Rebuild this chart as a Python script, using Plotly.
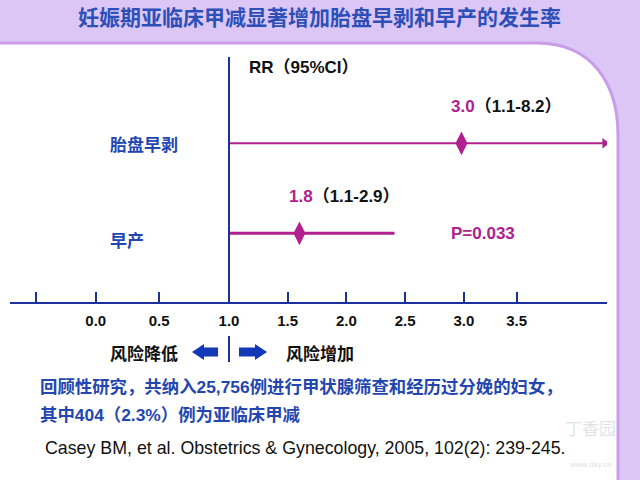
import plotly.graph_objects as go

# ---------------- data ----------------
outcomes = ["胎盘早剥", "早产"]
rr_text = ["3.0", "1.8"]
ci_text = ["（1.1-8.2）", "（1.1-2.9）"]
rr_plot = [2.98, 1.60]          # diamond positions as drawn on the axis
ci_lo_plot = [1.0, 1.0]
ci_hi_plot = [4.20, 2.41]
ci_open = [True, False]          # CI runs off the scale (arrow)
p_text = ["", "P=0.033"]
tick_vals = [-0.64, -0.135, 0.405, 1.0, 1.5, 2.0, 2.5, 3.0, 3.45]
tick_text = ["", "0.0", "0.5", "1.0", "1.5", "2.0", "2.5", "3.0", "3.5"]
ref_value = 1.0

title_text = "妊娠期亚临床甲减显著增加胎盘早剥和早产的发生率"
header_text = "RR（95%CI）"
left_text = "风险降低"
right_text = "风险增加"
note_lines = ["回顾性研究，共纳入25,756例进行甲状腺筛查和经历过分娩的妇女，",
              "其中404（2.3%）例为亚临床甲减"]
citation = "Casey BM, et al. Obstetrics & Gynecology, 2005, 102(2): 239-245."

# ---------------- style ----------------
W, H = 640, 480
MAG = "#b0208e"
AXBLUE = "#1b2f9e"
TBLUE = "#2346b0"
LAV = "#dbc6f6"
LAV_DARK = "#c99de8"
FONT = "Arial, 'Liberation Sans', 'Noto Sans CJK SC', sans-serif"
CJK = "'Noto Sans CJK SC', Arial, sans-serif"

def px(x):
    return x / W

def py(y):
    return 1 - y / H

PPU = 117.4      # pixels per unit on the x scale
X_REF_PX = 229   # pixel of value 1.0
ROW0_PX, ROW_STEP = 143.3, 90
AXIS_Y_PX = 303

x_range = [1 - (X_REF_PX - 10) / PPU, 1 + (607 - X_REF_PX) / PPU]
y_range = [(H - ROW0_PX) / ROW_STEP, -ROW0_PX / ROW_STEP]

fig = go.Figure()

rows = list(range(len(outcomes)))
line_w = [2, 3]
for i in rows:
    fig.add_trace(go.Scatter(x=[ci_lo_plot[i], ci_hi_plot[i]], y=[i, i], mode="lines",
                             line=dict(color=MAG, width=line_w[i]), hoverinfo="skip",
                             showlegend=False))

arr_x = [ci_hi_plot[i] for i in rows if ci_open[i]]
arr_y = [i for i in rows if ci_open[i]]
fig.add_trace(go.Scatter(x=arr_x, y=arr_y, mode="markers",
                         marker=dict(symbol="triangle-right", size=9, color=MAG),
                         showlegend=False, hoverinfo="skip"))

fig.add_trace(go.Scatter(x=rr_plot, y=rows, mode="markers",
                         marker=dict(symbol="diamond-tall", size=17, color=MAG),
                         showlegend=False, hoverinfo="skip"))

shapes = []
# white panel
panel = (f"M 0,{py(44)} L {px(537)},{py(44)} "
         f"C {px(592)},{py(44)} {px(617)},{py(85)} {px(617)},{py(135)} "
         f"L {px(617)},{py(480)} L 0,{py(480)} Z")
shapes.append(dict(type="path", xref="paper", yref="paper", path=panel,
                   fillcolor="white", line=dict(width=0), layer="below"))
border = (f"M 0,{py(43)} L {px(537)},{py(43)} "
          f"C {px(593)},{py(43)} {px(618)},{py(85)} {px(618)},{py(135)} "
          f"L {px(618)},{py(481)}")
shapes.append(dict(type="path", xref="paper", yref="paper", path=border,
                   fillcolor="rgba(0,0,0,0)", line=dict(width=3, color=LAV_DARK), layer="below"))
# reference line at RR = 1
shapes.append(dict(type="line", xref="x", yref="paper", x0=ref_value, x1=ref_value,
                   y0=py(57), y1=py(AXIS_Y_PX), line=dict(color=AXBLUE, width=2)))
# direction arrows
ay = 352
left_arrow = (f"M {px(192)},{py(ay)} L {px(204)},{py(ay-8)} L {px(204)},{py(ay-4.5)} "
              f"L {px(218)},{py(ay-4.5)} L {px(218)},{py(ay+4.5)} L {px(204)},{py(ay+4.5)} "
              f"L {px(204)},{py(ay+8)} Z")
right_arrow = (f"M {px(267)},{py(ay)} L {px(255)},{py(ay-8)} L {px(255)},{py(ay-4.5)} "
               f"L {px(239)},{py(ay-4.5)} L {px(239)},{py(ay+4.5)} L {px(255)},{py(ay+4.5)} "
               f"L {px(255)},{py(ay+8)} Z")
for p in (left_arrow, right_arrow):
    shapes.append(dict(type="path", xref="paper", yref="paper", path=p,
                       fillcolor="#1238b8", line=dict(width=0)))
shapes.append(dict(type="line", xref="x", yref="paper", x0=ref_value, x1=ref_value,
                   y0=py(336), y1=py(362), line=dict(color=AXBLUE, width=2)))

ann = []
def add(**kw):
    kw.setdefault("showarrow", False)
    kw.setdefault("yanchor", "middle")
    ann.append(kw)

add(x=px(319), y=py(16), xref="paper", yref="paper", xanchor="center", text=f"<b>{title_text}</b>",
    font=dict(family=CJK, size=21, color="#2c50b8"))
add(x=px(247), y=py(68), xref="paper", yref="paper", xanchor="left",
    text=f"<b>{header_text}</b>", font=dict(family=FONT, size=17, color="#111111"))
row_shift = [0, -6]
for i in rows:
    add(x=rr_plot[i], y=i, xref="x", yref="y", xanchor="left", xshift=-12, yshift=37,
        text=f"<b><span style='color:{MAG}'>{rr_text[i]}</span>{ci_text[i]}</b>",
        font=dict(family=FONT, size=17, color="#111111"))
    add(x=px(108), y=i, xref="paper", yref="y", xanchor="left", yshift=row_shift[i],
        text=f"<b>{outcomes[i]}</b>", font=dict(family=CJK, size=17, color=TBLUE))
    if p_text[i]:
        add(x=px(449), y=i, xref="paper", yref="y", xanchor="left",
            text=f"<b>{p_text[i]}</b>", font=dict(family=FONT, size=17, color=MAG))
add(x=px(108), y=py(352), xref="paper", yref="paper", xanchor="left",
    text=f"<b>{left_text}</b>", font=dict(family=CJK, size=17, color="#111111"))
add(x=px(284), y=py(352), xref="paper", yref="paper", xanchor="left",
    text=f"<b>{right_text}</b>", font=dict(family=CJK, size=17, color="#111111"))
for k, line in enumerate(note_lines):
    add(x=px(38), y=py(387 + 28 * k), xref="paper", yref="paper", xanchor="left",
        text=f"<b>{line}</b>", font=dict(family=FONT, size=17.4, color=TBLUE))
add(x=px(43), y=py(448), xref="paper", yref="paper", xanchor="left",
    text=citation, font=dict(family=FONT, size=17.8, color="#111111"))
add(x=px(590), y=py(427), xref="paper", yref="paper", xanchor="center",
    text="丁香园", font=dict(family=CJK, size=17, color="rgba(190,190,200,0.45)"))
add(x=px(590), y=py(464), xref="paper", yref="paper", xanchor="center",
    text="www.dxy.cn", font=dict(family=FONT, size=8, color="rgba(190,190,200,0.5)"))

fig.update_layout(
    width=W, height=H, autosize=False,
    margin=dict(l=0, r=0, t=0, b=0, pad=0),
    paper_bgcolor=LAV, plot_bgcolor="rgba(0,0,0,0)",
    showlegend=False,
    shapes=shapes, annotations=ann,
    xaxis=dict(domain=[px(10), px(607)], range=x_range, anchor="free", position=py(AXIS_Y_PX),
               showline=True, linecolor=AXBLUE, linewidth=2,
               ticks="inside", ticklen=10, tickwidth=2, tickcolor=AXBLUE,
               tickvals=tick_vals, ticktext=tick_text, ticklabelstandoff=4,
               tickfont=dict(family=FONT, size=15, color="#111111", weight="bold"),
               showgrid=False, zeroline=False, fixedrange=True),
    yaxis=dict(domain=[0, 1], range=y_range, visible=False, showgrid=False,
               zeroline=False, fixedrange=True),
)

fig.write_html("out.html")
